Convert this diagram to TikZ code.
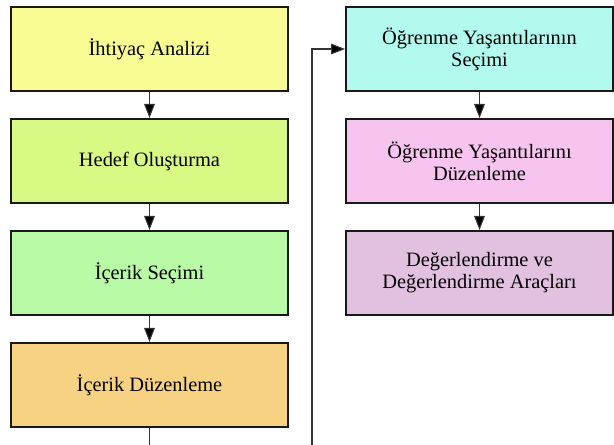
\documentclass[tikz,border=0pt]{standalone}
\usepackage{fontspec}
\setmainfont{Liberation Serif}
\usetikzlibrary{arrows.meta}
\definecolor{needcol}{HTML}{F9FC93}
\definecolor{goalcol}{HTML}{D9F985}
\definecolor{selectcol}{HTML}{B9FAA6}
\definecolor{ordercol}{HTML}{F8D283}
\definecolor{expcol}{HTML}{B3FAEE}
\definecolor{arrangecol}{HTML}{F7C4F0}
\definecolor{evalcol}{HTML}{E2C1E0}

\begin{document}
\begin{tikzpicture}[x=0.75pt,y=-0.75pt,
    stage/.style={draw=black!90, line width=1.5pt, minimum width=207.75pt,
      minimum height=63pt, align=center, inner sep=0pt,
      font=\fontsize{15.3}{16.6}\selectfont},
    rstage/.style={stage, minimum width=200.25pt},
    flow/.style={draw=black!80, line width=0.8pt,
      -{Triangle[length=10.5pt,width=8pt,fill=black]}},
    plain/.style={draw=black!80, line width=0.8pt}]
  \useasboundingbox (0,0) rectangle (614,445);
  % left column
  \node[stage, fill=needcol] (need) at (149.5,49) {İhtiyaç Analizi};
  \node[stage, fill=goalcol] (goal) at (149.5,161) {Hedef Oluşturma};
  \node[stage, fill=selectcol] (content) at (149.5,273) {İçerik Seçimi};
  \node[stage, fill=ordercol] (order) at (149.5,385) {İçerik Düzenleme};
  % right column
  \node[rstage, fill=expcol] (exp) at (479.5,49) {Öğrenme Yaşantılarının\\Seçimi};
  \node[rstage, fill=arrangecol] (arrange) at (479.5,161) {Öğrenme Yaşantılarını\\Düzenleme};
  \node[rstage, fill=evalcol] (eval) at (479.5,273) {Değerlendirme ve\\Değerlendirme Araçları};
  \coordinate (leftend) at (149.5,446);
  \coordinate (rightstart) at (312,446);

  \draw[flow] (need) -- (goal);
  \draw[flow] (goal) -- (content);
  \draw[flow] (content) -- (order);
  \draw[plain] (order) -- (leftend);
  \draw[flow] (rightstart) |- (exp.west);
  \draw[flow] (exp) -- (arrange);
  \draw[flow] (arrange) -- (eval);
\end{tikzpicture}
\end{document}
